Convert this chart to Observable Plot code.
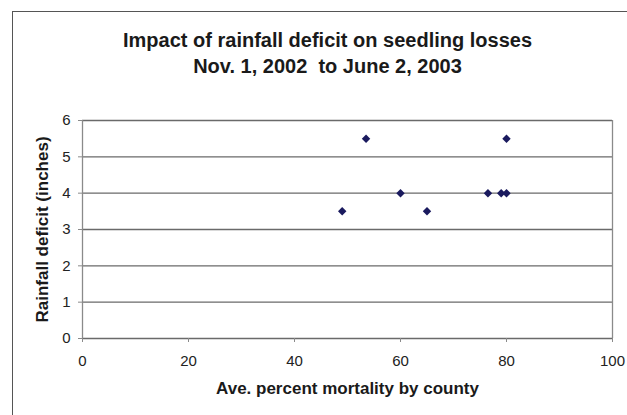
<!DOCTYPE html>
<html>
<head>
<meta charset="utf-8">
<script src="https://cdn.jsdelivr.net/npm/d3@7"></script>
<script src="https://cdn.jsdelivr.net/npm/@observablehq/plot@0.6"></script>
<style>
  html, body { margin: 0; padding: 0; background: #fff; }
  #wrap { position: relative; width: 627px; height: 415px; overflow: hidden; }
  #frame { position: absolute; left: 12px; top: 11px; width: 640px; height: 420px;
           border-left: 1.5px solid #555; border-top: 1.5px solid #555; pointer-events: none; }
</style>
</head>
<body>
<div id="wrap"><div id="frame"></div></div>
<script>
const titleLines = ["Impact of rainfall deficit on seedling losses", "Nov. 1, 2002  to June 2, 2003"];
const xLabel = "Ave. percent mortality by county";
const yLabel = "Rainfall deficit (inches)";
const xTicks = [0, 20, 40, 60, 80, 100];
const yTicks = [0, 1, 2, 3, 4, 5, 6];
const mortality = [49, 53.5, 60, 65, 76.5, 79, 80, 80];
const deficit   = [3.5, 5.5, 4, 3.5, 4, 4, 4, 5.5];

const data = mortality.map((m, i) => ({x: m, y: deficit[i]}));
const font = "Liberation Sans, Arial, sans-serif";

const chart = Plot.plot({
  width: 627,
  height: 415,
  marginLeft: 82,
  marginRight: 15,
  marginTop: 120,
  marginBottom: 77,
  style: {fontFamily: font, fontSize: "15px", color: "#222", background: "transparent"},
  x: {domain: [0, 100]},
  y: {domain: [0, 6]},
  marks: [
    Plot.ruleY(yTicks, {stroke: "#6a6a6a", strokeWidth: 1.3}),
    Plot.ruleX([0, 100], {y1: 0, y2: 6, stroke: "#8a8a8a", strokeWidth: 1.3}),
    Plot.axisX({ticks: xTicks, tickSize: 4, tickPadding: 13, stroke: "#8a8a8a", fontSize: 15, label: null, tickFormat: d => d}),
    Plot.axisY({ticks: yTicks, tickSize: 4, tickPadding: 8, stroke: "#8a8a8a", fontSize: 15, label: null, tickFormat: d => d}),
    Plot.dot(data, {x: "x", y: "y", symbol: "diamond2", r: 3.8, fill: "#1a1a5e", stroke: "none"}),
    Plot.text([titleLines[0]], {frameAnchor: "top", dx: -20, dy: -88, fontSize: 20, fontWeight: "bold", fill: "#1a1a1a"}),
    Plot.text([titleLines[1]], {frameAnchor: "top", dx: -20, dy: -62, fontSize: 20, fontWeight: "bold", fill: "#1a1a1a"}),
    Plot.text([xLabel], {frameAnchor: "bottom", dy: 55, fontSize: 17, fontWeight: "bold", fill: "#1a1a1a"}),
    Plot.text([yLabel], {frameAnchor: "left", dx: -40, dy: 0, rotate: -90, textAnchor: "middle", lineAnchor: "middle", fontSize: 17, fontWeight: "bold", fill: "#1a1a1a"})
  ]
});
document.getElementById("wrap").prepend(chart);
chart.style.position = "absolute";
chart.style.left = "0";
chart.style.top = "0";
</script>
</body>
</html>
